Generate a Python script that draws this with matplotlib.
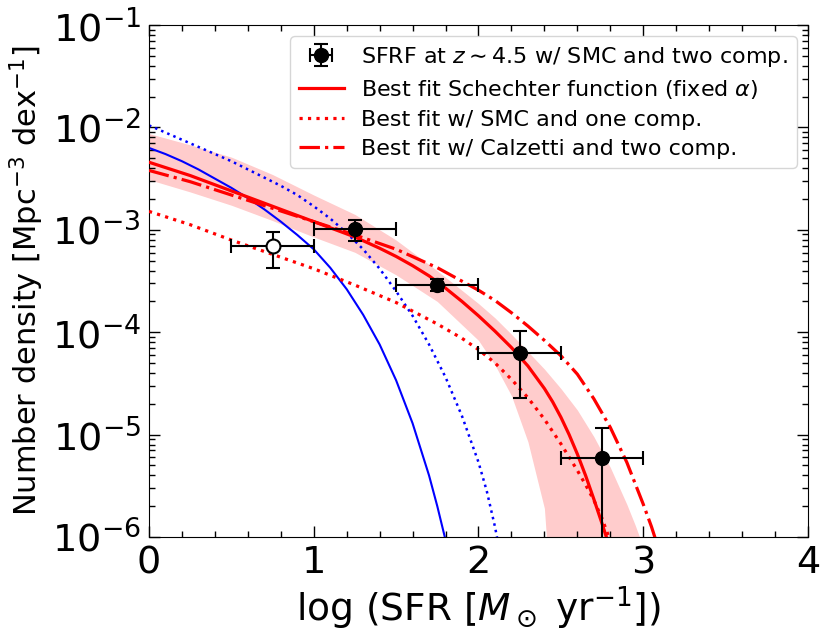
import numpy as np
import matplotlib
matplotlib.use("Agg")
import matplotlib.pyplot as plt

# observed SFRF points (log SFR bins)
x_obs = [1.25, 1.75, 2.25, 2.75]
y_obs = [1.01e-3, 2.9e-4, 6.3e-5, 5.9e-6]
y_lo = [7.7e-4, 2.5e-4, 2.3e-5, 1e-8]
y_hi = [1.25e-3, 3.3e-4, 1.03e-4, 1.15e-5]
x_halfwidth = [0.25, 0.25, 0.25, 0.25]

# incomplete bin, open symbol
x_open = [0.75]
y_open = [6.95e-4]
y_open_lo = [4.2e-4]
y_open_hi = [9.6e-4]

# best fit Schechter (fixed alpha), log10 number density
x_fit = [0.0, 0.25, 0.5, 0.75, 1.0, 1.25, 1.4, 1.5, 1.6, 1.7, 1.8, 1.9, 2.0, 2.1,
         2.2, 2.3, 2.4, 2.45, 2.5, 2.55, 2.6, 2.65, 2.7, 2.75, 2.8]
lg_fit = [-2.34, -2.47, -2.62, -2.77, -2.92, -3.07, -3.18, -3.26, -3.35, -3.45, -3.57,
          -3.70, -3.84, -3.99, -4.15, -4.33, -4.55, -4.68, -4.83, -5.00, -5.19, -5.40,
          -5.63, -5.87, -6.12]

# 1 sigma band of the fit
x_band_hi = [0.0, 0.25, 0.5, 0.75, 1.0, 1.25, 1.5, 1.75, 2.0, 2.1, 2.2, 2.3, 2.4, 2.5,
             2.6, 2.7, 2.8, 2.9, 2.95, 3.0]
lg_band_hi = [-2.06, -2.17, -2.29, -2.46, -2.66, -2.85, -3.10, -3.40, -3.72, -3.86,
              -4.02, -4.19, -4.36, -4.55, -4.76, -5.02, -5.32, -5.68, -5.88, -6.10]
x_band_lo = [0.0, 0.25, 0.5, 0.75, 1.0, 1.25, 1.5, 1.75, 1.9, 2.0, 2.1, 2.2, 2.25,
             2.3, 2.35, 2.4, 2.45]
lg_band_lo = [-2.51, -2.63, -2.76, -2.91, -3.07, -3.22, -3.44, -3.70, -3.90, -4.08,
              -4.32, -4.62, -4.83, -5.07, -5.36, -5.72, -6.15]

# SMC, one component
x_one = [0.0, 0.25, 0.5, 0.75, 1.0, 1.25, 1.5, 1.75, 1.9, 2.0, 2.1, 2.2, 2.3, 2.4,
         2.5, 2.6, 2.65, 2.7, 2.75, 2.8]
lg_one = [-2.82, -2.95, -3.10, -3.24, -3.38, -3.54, -3.71, -3.92, -4.06, -4.17, -4.30,
          -4.46, -4.64, -4.85, -5.09, -5.35, -5.49, -5.64, -5.82, -6.04]

# Calzetti, two components
x_calz = [0.0, 0.25, 0.5, 0.75, 1.0, 1.25, 1.5, 1.75, 2.0, 2.1, 2.2, 2.3, 2.4, 2.5,
          2.6, 2.7, 2.8, 2.9, 3.0, 3.05, 3.1]
lg_calz = [-2.42, -2.53, -2.66, -2.79, -2.92, -3.05, -3.19, -3.37, -3.59, -3.69, -3.81,
           -3.94, -4.08, -4.23, -4.41, -4.65, -4.93, -5.27, -5.68, -5.90, -6.15]

# blue components (solid and dotted)
x_blue = [0.0, 0.1, 0.2, 0.3, 0.4, 0.5, 0.6, 0.7, 0.8, 0.9, 1.0, 1.1, 1.2, 1.3, 1.4,
          1.5, 1.6, 1.7, 1.75, 1.8, 1.85]
lg_blue = [-2.20, -2.26, -2.33, -2.41, -2.50, -2.59, -2.69, -2.80, -2.92, -3.05, -3.19,
           -3.37, -3.58, -3.83, -4.12, -4.47, -4.89, -5.40, -5.70, -6.03, -6.40]
x_blue_dot = [0.0, 0.1, 0.2, 0.3, 0.4, 0.5, 0.6, 0.7, 0.8, 0.9, 1.0, 1.1, 1.2, 1.3,
              1.4, 1.5, 1.6, 1.7, 1.8, 1.9, 2.0, 2.05, 2.1, 2.13]
lg_blue_dot = [-1.98, -2.05, -2.12, -2.19, -2.26, -2.33, -2.41, -2.49, -2.57, -2.66,
               -2.77, -2.89, -3.03, -3.19, -3.38, -3.60, -3.84, -4.12, -4.44, -4.82,
               -5.27, -5.55, -5.90, -6.15]

fig = plt.figure(figsize=(8.3, 6.42), dpi=100)
ax = fig.add_axes([0.1795, 0.1636, 0.794, 0.7974])

band_lo_on_hi = np.interp(x_band_hi, x_band_lo, lg_band_lo, right=-8.0)
ax.fill_between(x_band_hi, 10**band_lo_on_hi, 10**np.array(lg_band_hi),
                color='#ffcccc', lw=0, zorder=1)

ax.plot(x_blue, 10**np.array(lg_blue), color='blue', lw=1.5, zorder=2)
ax.plot(x_blue_dot, 10**np.array(lg_blue_dot), color='blue', ls=':', lw=1.8, zorder=2)

ax.plot(x_fit, 10**np.array(lg_fit), color='red', lw=2.3, zorder=3,
        label=r'Best fit Schechter function (fixed $\alpha$)')
ax.plot(x_one, 10**np.array(lg_one), color='red', ls=':', lw=2.3, zorder=3,
        label='Best fit w/ SMC and one comp.')
ax.plot(x_calz, 10**np.array(lg_calz), color='red', ls='-.', lw=2.3, zorder=3,
        label='Best fit w/ Calzetti and two comp.')

yerr = [np.array(y_obs) - np.array(y_lo), np.array(y_hi) - np.array(y_obs)]
ax.errorbar(x_obs, y_obs, xerr=x_halfwidth, yerr=yerr, fmt='o', color='k',
            ms=10, elinewidth=1.5, capsize=5, capthick=1.5, zorder=5,
            label=r'SFRF at $z\sim 4.5$ w/ SMC and two comp.')
yerr_open = [np.array(y_open) - np.array(y_open_lo),
             np.array(y_open_hi) - np.array(y_open)]
ax.errorbar(x_open, y_open, xerr=[0.25], yerr=yerr_open, fmt='o', color='k',
            mfc='white', mec='k', mew=1.5, ms=10, elinewidth=1.5, capsize=5,
            capthick=1.5, zorder=5)

ax.set_yscale('log')
ax.set_xlim(0, 4)
ax.set_ylim(1e-6, 1e-1)
ax.set_xticks([0, 1, 2, 3, 4])
ax.set_xticks(np.arange(0, 4.01, 0.2), minor=True)
ax.tick_params(which='both', direction='in', top=True, right=True, labelsize=27.5)
ax.tick_params(which='major', length=8, width=1)
ax.tick_params(which='minor', length=4, width=1)
ax.tick_params(axis='x', pad=6)
ax.tick_params(axis='y', pad=6)

ax.set_xlabel(r'log (SFR [$M_\odot$ yr$^{-1}$])', fontsize=27, labelpad=2)
ax.set_ylabel(r'Number density [Mpc$^{-3}$ dex$^{-1}$]', fontsize=22, labelpad=4)

h, l = ax.get_legend_handles_labels()
order = [3, 0, 1, 2]
ax.legend([h[i] for i in order], [l[i] for i in order], loc='upper right',
          fontsize=16, handlelength=2.0, borderpad=0.4, labelspacing=0.4)

fig.savefig('out.png', dpi=100)
